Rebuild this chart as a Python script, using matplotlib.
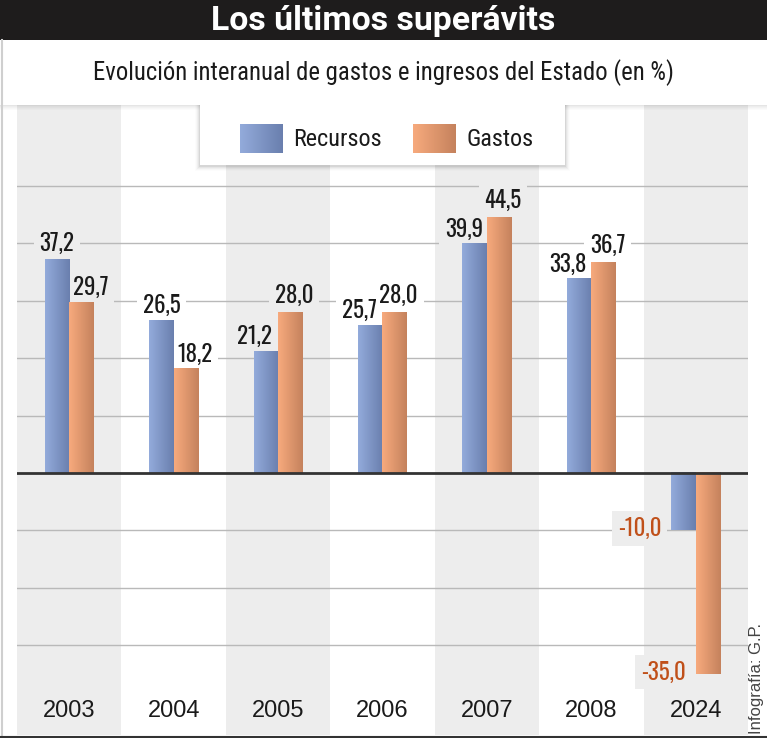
import numpy as np
import matplotlib
matplotlib.use("Agg")
import matplotlib.pyplot as plt
from matplotlib.patches import Rectangle
from matplotlib.lines import Line2D
from matplotlib.colors import LinearSegmentedColormap

years = ["2003", "2004", "2005", "2006", "2007", "2008", "2024"]
recursos = [37.2, 26.5, 21.2, 25.7, 39.9, 33.8, -10.0]
gastos = [29.7, 18.2, 28.0, 28.0, 44.5, 36.7, -35.0]
series_names = ["Recursos", "Gastos"]

title = "Los últimos superávits"
subtitle = "Evolución interanual de gastos e ingresos del Estado (en %)"
credit = "Infografía: G.P."

TITLE = ["Roboto", "DejaVu Sans"]
COND = ["Roboto Condensed", "DejaVu Sans"]
VALUES = ["Oswald", "Roboto Condensed", "DejaVu Sans"]
REGULAR = ["Liberation Sans", "DejaVu Sans"]

blue_light, blue_dark = "#93abdb", "#6a7fae"
orange_light, orange_dark = "#f7aa7d", "#c5825d"
neg_color = "#c0501a"

W, H = 767, 738


def fig_rect(x0, y0, x1, y1, **kw):
    # rectangle given in pixel coordinates from the top left corner
    return Rectangle((x0 / W, 1 - y1 / H), (x1 - x0) / W, (y1 - y0) / H,
                     transform=fig.transFigure, **kw)


def gradient_fill(ax, patch, c_light, c_dark, zorder):
    cmap = LinearSegmentedColormap.from_list("grad", [c_light, c_dark])
    x0 = patch.get_x()
    x1 = x0 + patch.get_width()
    y0 = patch.get_y()
    y1 = y0 + patch.get_height()
    ax.imshow(np.linspace(0, 1, 64).reshape(1, -1), cmap=cmap,
              extent=(x0, x1, min(y0, y1), max(y0, y1)),
              aspect="auto", zorder=zorder, interpolation="bilinear")


def value_label(ax, label, xy, offset, ha, va, color, bg):
    # background box first (it hides the gridline), text on top of every box
    kw = dict(xy=xy, xytext=offset, textcoords="offset pixels", ha=ha, va=va,
              fontsize=16.5, fontweight="bold", family=VALUES)
    ax.annotate(label, color="none", zorder=2.4,
                bbox=dict(boxstyle="square,pad=0.25", fc=bg, ec="none"), **kw)
    ax.annotate(label, color=color, zorder=2.6, **kw)


fig = plt.figure(figsize=(W / 100, H / 100), dpi=100)
fig.patch.set_facecolor("white")

# header
fig.add_artist(fig_rect(0, 0, W, 40, facecolor="#1e1c1c", edgecolor="none"))
fig.text(0.5, 1 - 21 / H, title, color="white", fontsize=24.3, fontweight="bold",
         family=TITLE, ha="center", va="center")
fig.text(0.5, 1 - 73 / H, subtitle, color="#1a1a1a", fontsize=17.8,
         family=COND, ha="center", va="center")

# main chart
ax = fig.add_axes([17 / W, 1 - 735 / H, 731 / W, 630 / H])
ax.axis("off")

for i in range(len(years)):
    col_bg = "#ededed" if i % 2 == 0 else "white"
    ax.axvspan(i - 0.5, i + 0.5, color=col_bg, lw=0, zorder=0)

for v in range(-30, 51, 10):
    if v != 0:
        ax.axhline(v, color="#b9b9b9", lw=1, zorder=1)

x = np.arange(len(years))
width = 0.234
bars_r = ax.bar(x - width / 2, recursos, width, color=blue_light, lw=0, zorder=3)
bars_g = ax.bar(x + width / 2, gastos, width, color=orange_light, lw=0, zorder=3)
for b in bars_r:
    gradient_fill(ax, b, blue_light, blue_dark, 3)
for b in bars_g:
    gradient_fill(ax, b, orange_light, orange_dark, 3)

ax.axhline(0, color="#333333", lw=2, zorder=5)

for i in range(len(years)):
    col_bg = "#ededed" if i % 2 == 0 else "white"
    for val, other, xpos, side in ((recursos[i], gastos[i], x[i] - width / 2, -1),
                                   (gastos[i], recursos[i], x[i] + width / 2, 1)):
        label = "{:.1f}".format(val).replace(".", ",")
        if val >= 0:
            # push the label outward when the neighbouring bar is taller
            if other > val:
                dx, dy = (-11, 7) if side < 0 else (9, 7)
            else:
                dx, dy = (0, 8) if side < 0 else (4, 9)
            value_label(ax, label, (xpos, val), (dx, dy), "center", "baseline",
                        "#1a1a1a", col_bg)
        else:
            value_label(ax, label, (xpos - width / 2, val), (-10, 2), "right",
                        "center", neg_color, col_bg)
    ax.text(x[i], -41.4, years[i], ha="center", va="center", fontsize=17,
            family=REGULAR, color="#1a1a1a")

ax.set_xlim(-0.5, len(years) - 0.5)
ax.set_ylim(-45.6, 64.05)

# shadow under the subtitle box
for k, a in enumerate([0.10, 0.07, 0.05, 0.03, 0.015]):
    fig.add_artist(fig_rect(0, 105 + k, W, 106 + k, facecolor="black",
                            edgecolor="none", alpha=a, zorder=1))

# legend box with soft shadow
lx0, ly0, lx1, ly1 = 200, 105, 565, 165
for k, a in enumerate([0.06, 0.04, 0.03, 0.02, 0.01]):
    fig.add_artist(fig_rect(lx0 - 1 - k, ly0, lx1 + 1 + k, ly1 + 2 + k,
                            facecolor="black", edgecolor="none", alpha=a, zorder=1))
lax = fig.add_axes([lx0 / W, 1 - ly1 / H, (lx1 - lx0) / W, (ly1 - ly0) / H], zorder=2)
lax.set_facecolor("white")
lax.set_xticks([])
lax.set_yticks([])
for s in lax.spines.values():
    s.set_visible(False)
legend_items = [(series_names[0], blue_light, blue_dark, 40),
                (series_names[1], orange_light, orange_dark, 213)]
for name, c_l, c_d, px in legend_items:
    sw = Rectangle((px, 19), 43, 29, lw=0, fc=c_l)
    lax.add_patch(sw)
    gradient_fill(lax, sw, c_l, c_d, 3)
    lax.text(px + 53, 34, name, fontsize=17.5, family=COND, color="#1a1a1a",
             ha="left", va="center")
lax.set_xlim(0, lx1 - lx0)
lax.set_ylim(ly1 - ly0, 0)

# frame lines and credit
fig.add_artist(Line2D([1.5 / W, 1.5 / W], [0, 1 - 40 / H], color="#cfcfcf",
                      lw=1.5, transform=fig.transFigure))
fig.add_artist(Line2D([0, 1], [1 - 737 / H, 1 - 737 / H], color="#333333",
                      lw=1.5, transform=fig.transFigure))
fig.text(757 / W, 1 - 734 / H, credit, rotation=90, fontsize=12, family=REGULAR,
         color="#444444", ha="center", va="bottom")

fig.savefig("out.png", dpi=100)
